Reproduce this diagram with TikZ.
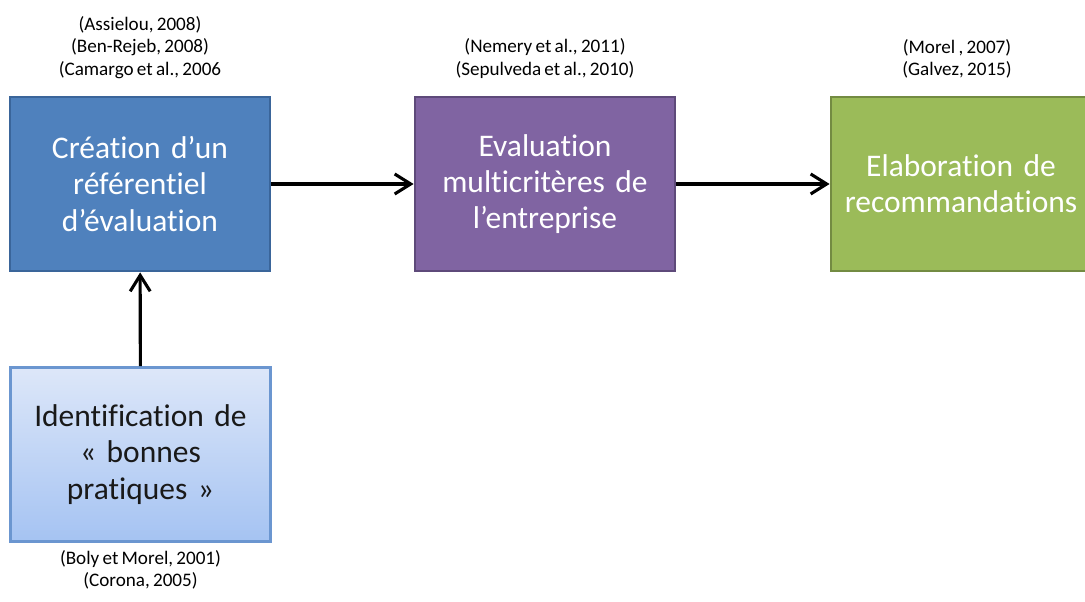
\documentclass[tikz,border=0pt]{standalone}
\usepackage{fontspec}
\setmainfont{Carlito}[Ligatures=NoCommon, WordSpace=0.75]
\usepackage{xcolor}
\usetikzlibrary{positioning,arrows.meta}

\definecolor{blueA}{HTML}{4F81BD}
\definecolor{blueB}{HTML}{3A659A}
\definecolor{purpleA}{HTML}{8064A2}
\definecolor{purpleB}{HTML}{5E4A7A}
\definecolor{greenA}{HTML}{9BBB59}
\definecolor{greenB}{HTML}{738B42}
\definecolor{lightA}{HTML}{DDE7F9}
\definecolor{lightB}{HTML}{A5C3F2}
\definecolor{lightC}{HTML}{6B96D0}

\begin{document}
\begin{tikzpicture}[node distance=0.45cm and 0.45cm, auto,
    box/.style={draw, line width=2pt, minimum width=6.5cm, minimum height=4.35cm,
        align=center, text width=5.9cm, font=\fontsize{22.4}{25.8}\selectfont},
    ref/.style={align=center, inner sep=0pt, font=\fontsize{13.6}{16}\selectfont},
    link/.style={-{Straight Barb[length=4mm,width=5mm]}, line width=2.2pt}]
\clip (0,0) rectangle (27.125,15.05);

\node[box, fill=blueA, draw=blueB, text=white] (creation) at (3.5,10.45) {Création d’un\\référentiel\\d’évaluation};
\node[box, fill=purpleA, draw=purpleB, text=white] (evaluation) at (13.625,10.45) {Evaluation\\multicritères de\\l’entreprise};
\node[box, fill=greenA, draw=greenB, text=white] (elaboration) at (24.025,10.45) {Elaboration de\\recommandations};
\node[box, top color=lightA, bottom color=lightB, draw=lightC, text=black!90] (identification) at (3.5125,3.6875) {Identification de\\« bonnes\\pratiques »};

% references
\node[ref, above=0.42cm of creation] (ref_creation) {(Assielou, 2008)\\(Ben-Rejeb, 2008)\\(Camargo et al., 2006};
\node[ref, above=0.42cm of evaluation] (ref_evaluation) {(Nemery et al., 2011)\\(Sepulveda et al., 2010)};
\node[ref, above=0.42cm of elaboration, xshift=-0.1cm] (ref_elaboration) {(Morel , 2007)\\(Galvez, 2015)};
\node[ref, below=0.18cm of identification] (ref_identification) {(Boly et Morel, 2001)\\(Corona, 2005)};

\draw[link] (creation) -- (evaluation);
\draw[link] (evaluation) -- (elaboration);
\draw[link] (identification) -- (creation);

\end{tikzpicture}
\end{document}
